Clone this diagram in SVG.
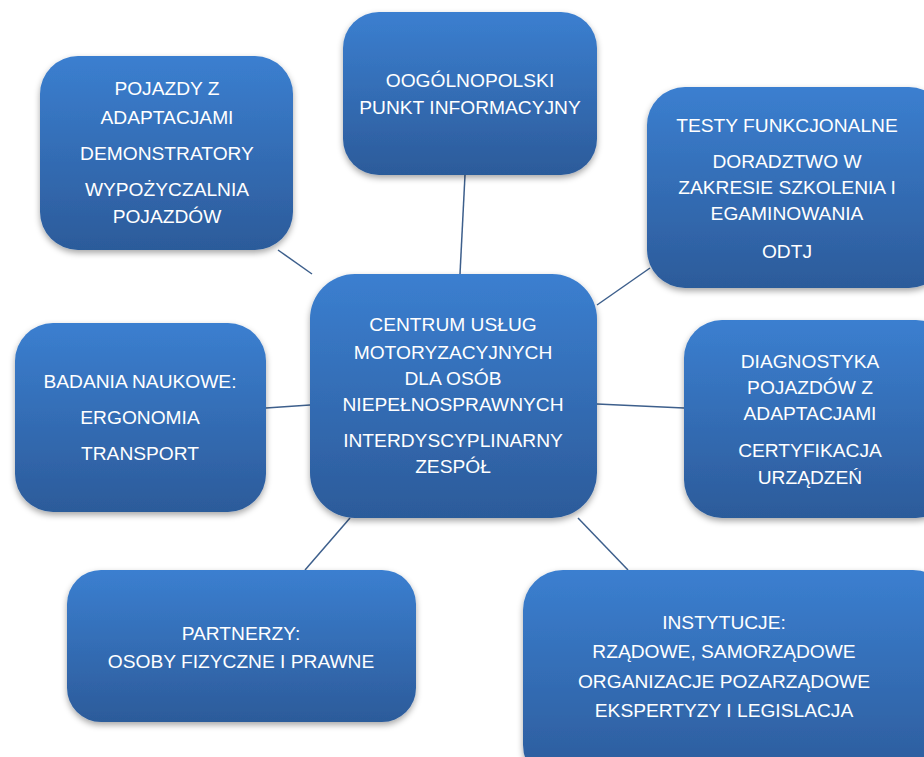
<svg xmlns="http://www.w3.org/2000/svg" width="924" height="757" viewBox="0 0 924 757">
<defs>
<linearGradient id="g" x1="0" y1="0" x2="0" y2="1">
<stop offset="0" stop-color="#3b7fd0"/>
<stop offset="1" stop-color="#2c5b9a"/>
</linearGradient>
<filter id="sh" x="-10%" y="-10%" width="120%" height="125%">
<feDropShadow dx="0" dy="3" stdDeviation="3" flood-color="#000" flood-opacity="0.35"/>
</filter>
</defs>
<style>
.box{fill:url(#g);filter:url(#sh)}
.t{font-family:"Liberation Sans",Arial,sans-serif;font-size:19.2px;fill:#fff;text-anchor:middle}
.c{stroke:#3d5f8c;stroke-width:1.5;fill:none}
</style>
<rect width="924" height="757" fill="#fff"/>
<g id="connectors">
<line class="c" x1="278" y1="250" x2="312" y2="274"/>
<line class="c" x1="465" y1="175" x2="460" y2="274"/>
<line class="c" x1="650" y1="268" x2="597" y2="305"/>
<line class="c" x1="266" y1="408" x2="310" y2="405"/>
<line class="c" x1="684" y1="408" x2="597" y2="404"/>
<line class="c" x1="305" y1="570" x2="350" y2="518"/>
<line class="c" x1="628" y1="570" x2="578" y2="518"/>
</g>
<g id="n-pojazdy">
<rect class="box" x="40" y="56" width="253" height="194" rx="38"/>
<text class="t" x="167" y="95">POJAZDY Z</text>
<text class="t" x="167" y="124">ADAPTACJAMI</text>
<text class="t" x="167" y="160">DEMONSTRATORY</text>
<text class="t" x="167" y="196">WYPOŻYCZALNIA</text>
<text class="t" x="167" y="223">POJAZDÓW</text>
</g>
<g id="n-punkt">
<rect class="box" x="343" y="12" width="254" height="163" rx="36"/>
<text class="t" x="470" y="87">OOGÓLNOPOLSKI</text>
<text class="t" x="470" y="114">PUNKT INFORMACYJNY</text>
</g>
<g id="n-testy">
<rect class="box" x="647" y="87" width="300" height="201" rx="38"/>
<text class="t" x="787" y="132">TESTY FUNKCJONALNE</text>
<text class="t" x="787" y="168">DORADZTWO W</text>
<text class="t" x="787" y="194">ZAKRESIE SZKOLENIA I</text>
<text class="t" x="787" y="220">EGAMINOWANIA</text>
<text class="t" x="787" y="258">ODTJ</text>
</g>
<g id="n-centrum">
<rect class="box" x="310" y="274" width="287" height="244" rx="45"/>
<text class="t" x="453" y="331">CENTRUM USŁUG</text>
<text class="t" x="453" y="359">MOTORYZACYJNYCH</text>
<text class="t" x="453" y="385">DLA OSÓB</text>
<text class="t" x="453" y="411">NIEPEŁNOSPRAWNYCH</text>
<text class="t" x="453" y="447">INTERDYSCYPLINARNY</text>
<text class="t" x="453" y="473">ZESPÓŁ</text>
</g>
<g id="n-badania">
<rect class="box" x="15" y="323" width="251" height="189" rx="38"/>
<text class="t" x="140" y="388">BADANIA NAUKOWE:</text>
<text class="t" x="140" y="424">ERGONOMIA</text>
<text class="t" x="140" y="460">TRANSPORT</text>
</g>
<g id="n-diagnostyka">
<rect class="box" x="684" y="320" width="270" height="198" rx="38"/>
<text class="t" x="810" y="368">DIAGNOSTYKA</text>
<text class="t" x="810" y="394">POJAZDÓW Z</text>
<text class="t" x="810" y="420">ADAPTACJAMI</text>
<text class="t" x="810" y="457">CERTYFIKACJA</text>
<text class="t" x="810" y="484">URZĄDZEŃ</text>
</g>
<g id="n-partnerzy">
<rect class="box" x="67" y="570" width="349" height="152" rx="34"/>
<text class="t" x="241" y="640">PARTNERZY:</text>
<text class="t" x="241" y="668">OSOBY FIZYCZNE I PRAWNE</text>
</g>
<g id="n-instytucje">
<rect class="box" x="523" y="570" width="430" height="215" rx="40"/>
<text class="t" x="724" y="629">INSTYTUCJE:</text>
<text class="t" x="724" y="658">RZĄDOWE, SAMORZĄDOWE</text>
<text class="t" x="724" y="688">ORGANIZACJE POZARZĄDOWE</text>
<text class="t" x="724" y="717">EKSPERTYZY I LEGISLACJA</text>
</g>
</svg>
